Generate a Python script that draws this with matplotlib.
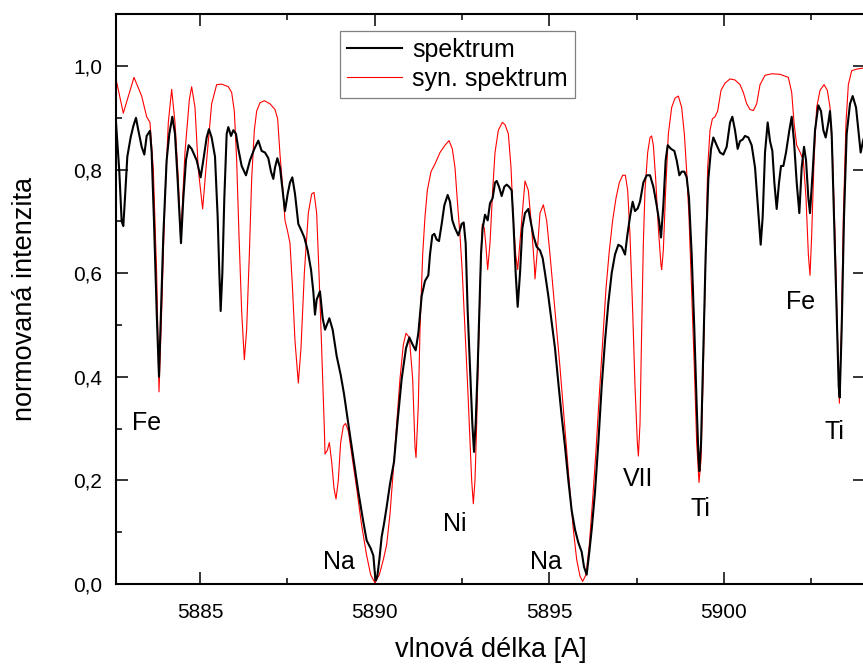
import matplotlib; matplotlib.use("Agg")
import matplotlib.pyplot as plt
from matplotlib.ticker import MultipleLocator, FuncFormatter

plt.rcParams.update({"font.family": ["Liberation Sans", "DejaVu Sans"], "font.size": 15})

# observed spectrum (wavelength in A, normalised intensity)
wl_obs = [5882.595, 5882.690, 5882.757, 5882.804, 5882.852, 5882.919, 5883.014, 5883.091, 5883.167, 5883.234,
          5883.330, 5883.406, 5883.473, 5883.568, 5883.616, 5883.683, 5883.759, 5883.826, 5883.883, 5883.950,
          5884.045, 5884.122, 5884.208, 5884.284, 5884.360, 5884.456, 5884.523, 5884.599, 5884.675, 5884.761,
          5884.905, 5885.019, 5885.095, 5885.191, 5885.258, 5885.334, 5885.430, 5885.506, 5885.554, 5885.592,
          5885.640, 5885.697, 5885.764, 5885.811, 5885.888, 5885.955, 5886.031, 5886.098, 5886.193, 5886.317,
          5886.432, 5886.556, 5886.670, 5886.766, 5886.861, 5886.957, 5887.033, 5887.100, 5887.148, 5887.215,
          5887.291, 5887.367, 5887.434, 5887.511, 5887.577, 5887.644, 5887.721, 5887.816, 5887.892, 5887.988,
          5888.083, 5888.179, 5888.246, 5888.293, 5888.341, 5888.436, 5888.513, 5888.580, 5888.704, 5888.799,
          5888.914, 5889.028, 5889.124, 5889.248, 5889.391, 5889.534, 5889.677, 5889.773, 5889.887, 5889.964,
          5890.011, 5890.040, 5890.078, 5890.136, 5890.202, 5890.269, 5890.346, 5890.441, 5890.556, 5890.651,
          5890.775, 5890.899, 5890.995, 5891.090, 5891.176, 5891.252, 5891.348, 5891.443, 5891.539, 5891.586,
          5891.653, 5891.711, 5891.777, 5891.844, 5891.921, 5891.997, 5892.092, 5892.159, 5892.226, 5892.302,
          5892.398, 5892.493, 5892.551, 5892.608, 5892.665, 5892.732, 5892.799, 5892.847, 5892.894, 5892.952,
          5892.999, 5893.047, 5893.095, 5893.162, 5893.238, 5893.305, 5893.381, 5893.448, 5893.496, 5893.562,
          5893.639, 5893.715, 5893.782, 5893.849, 5893.925, 5893.973, 5894.040, 5894.097, 5894.164, 5894.231,
          5894.307, 5894.402, 5894.546, 5894.641, 5894.737, 5894.813, 5894.880, 5894.975, 5895.071, 5895.166,
          5895.262, 5895.357, 5895.453, 5895.548, 5895.643, 5895.739, 5895.834, 5895.930, 5895.997, 5896.073,
          5896.149, 5896.216, 5896.312, 5896.407, 5896.503, 5896.598, 5896.693, 5896.789, 5896.884, 5896.980,
          5897.075, 5897.171, 5897.237, 5897.314, 5897.390, 5897.457, 5897.534, 5897.600, 5897.696, 5897.791,
          5897.887, 5897.982, 5898.078, 5898.144, 5898.202, 5898.268, 5898.335, 5898.393, 5898.488, 5898.584,
          5898.650, 5898.727, 5898.793, 5898.870, 5898.937, 5899.003, 5899.080, 5899.156, 5899.223, 5899.271,
          5899.299, 5899.347, 5899.414, 5899.481, 5899.557, 5899.634, 5899.700, 5899.796, 5899.891, 5899.987,
          5900.082, 5900.178, 5900.244, 5900.321, 5900.397, 5900.464, 5900.540, 5900.607, 5900.703, 5900.798,
          5900.894, 5900.989, 5901.056, 5901.113, 5901.180, 5901.256, 5901.323, 5901.390, 5901.447, 5901.514,
          5901.581, 5901.638, 5901.705, 5901.781, 5901.877, 5901.944, 5902.010, 5902.087, 5902.163, 5902.230,
          5902.297, 5902.354, 5902.421, 5902.468, 5902.545, 5902.612, 5902.707, 5902.783, 5902.851, 5902.917,
          5902.994, 5903.041, 5903.089, 5903.156, 5903.232, 5903.290, 5903.318, 5903.375, 5903.442, 5903.518,
          5903.614, 5903.690, 5903.786, 5903.853, 5903.919, 5903.986, 5904.050]
int_obs = [0.891, 0.796, 0.700, 0.691, 0.745, 0.825, 0.862, 0.884, 0.900, 0.876,
           0.844, 0.829, 0.865, 0.875, 0.833, 0.700, 0.527, 0.400, 0.527, 0.673,
           0.818, 0.869, 0.902, 0.869, 0.780, 0.658, 0.745, 0.818, 0.847, 0.840,
           0.818, 0.785, 0.818, 0.862, 0.878, 0.862, 0.825, 0.709, 0.600, 0.527,
           0.600, 0.745, 0.869, 0.882, 0.865, 0.876, 0.869, 0.840, 0.807, 0.789,
           0.818, 0.840, 0.856, 0.836, 0.833, 0.822, 0.796, 0.782, 0.804, 0.822,
           0.804, 0.760, 0.720, 0.753, 0.775, 0.785, 0.753, 0.695, 0.684, 0.669,
           0.644, 0.607, 0.564, 0.520, 0.549, 0.565, 0.513, 0.491, 0.513, 0.491,
           0.440, 0.404, 0.367, 0.309, 0.244, 0.178, 0.120, 0.084, 0.069, 0.055,
           0.018, 0.007, 0.015, 0.047, 0.091, 0.116, 0.149, 0.193, 0.236, 0.309,
           0.396, 0.455, 0.476, 0.462, 0.451, 0.484, 0.556, 0.585, 0.596, 0.636,
           0.673, 0.676, 0.665, 0.662, 0.695, 0.731, 0.751, 0.738, 0.702, 0.687,
           0.673, 0.695, 0.698, 0.658, 0.527, 0.418, 0.309, 0.255, 0.309, 0.418,
           0.527, 0.636, 0.687, 0.713, 0.702, 0.735, 0.745, 0.775, 0.778, 0.767,
           0.749, 0.767, 0.771, 0.767, 0.760, 0.702, 0.600, 0.535, 0.600, 0.687,
           0.716, 0.724, 0.673, 0.651, 0.644, 0.629, 0.600, 0.556, 0.505, 0.455,
           0.388, 0.324, 0.265, 0.200, 0.142, 0.105, 0.080, 0.062, 0.033, 0.018,
           0.062, 0.105, 0.178, 0.273, 0.382, 0.469, 0.542, 0.600, 0.636, 0.655,
           0.651, 0.636, 0.673, 0.709, 0.738, 0.720, 0.725, 0.738, 0.775, 0.789,
           0.789, 0.767, 0.731, 0.702, 0.669, 0.731, 0.818, 0.847, 0.840, 0.836,
           0.818, 0.789, 0.796, 0.796, 0.785, 0.745, 0.636, 0.491, 0.345, 0.251,
           0.218, 0.270, 0.455, 0.636, 0.782, 0.840, 0.862, 0.847, 0.833, 0.829,
           0.844, 0.891, 0.902, 0.876, 0.840, 0.855, 0.858, 0.865, 0.862, 0.847,
           0.804, 0.716, 0.655, 0.709, 0.833, 0.891, 0.855, 0.836, 0.775, 0.724,
           0.775, 0.807, 0.807, 0.833, 0.876, 0.902, 0.855, 0.775, 0.716, 0.804,
           0.844, 0.818, 0.745, 0.716, 0.796, 0.876, 0.924, 0.913, 0.876, 0.862,
           0.891, 0.913, 0.869, 0.709, 0.527, 0.382, 0.360, 0.491, 0.709, 0.869,
           0.927, 0.942, 0.920, 0.876, 0.833, 0.855, 0.870]

# synthetic spectrum
wl_syn = [5882.595, 5882.804, 5883.110, 5883.330, 5883.473, 5883.568, 5883.664, 5883.759, 5883.826, 5883.902,
          5883.998, 5884.093, 5884.189, 5884.284, 5884.380, 5884.446, 5884.570, 5884.695, 5884.761, 5884.857,
          5884.952, 5885.076, 5885.191, 5885.334, 5885.477, 5885.620, 5885.811, 5885.907, 5885.983, 5886.050,
          5886.117, 5886.193, 5886.270, 5886.336, 5886.413, 5886.480, 5886.556, 5886.623, 5886.718, 5886.842,
          5887.005, 5887.148, 5887.224, 5887.291, 5887.367, 5887.434, 5887.511, 5887.577, 5887.644, 5887.721,
          5887.816, 5887.892, 5887.988, 5888.102, 5888.198, 5888.265, 5888.341, 5888.408, 5888.484, 5888.561,
          5888.580, 5888.646, 5888.704, 5888.771, 5888.837, 5888.895, 5888.961, 5889.028, 5889.105, 5889.171,
          5889.248, 5889.343, 5889.486, 5889.630, 5889.773, 5889.887, 5890.011, 5890.136, 5890.250, 5890.346,
          5890.441, 5890.536, 5890.632, 5890.727, 5890.823, 5890.899, 5890.995, 5891.090, 5891.157, 5891.186,
          5891.252, 5891.300, 5891.377, 5891.443, 5891.510, 5891.615, 5891.730, 5891.873, 5892.016, 5892.131,
          5892.226, 5892.302, 5892.379, 5892.446, 5892.512, 5892.589, 5892.665, 5892.732, 5892.780, 5892.827,
          5892.875, 5892.923, 5892.990, 5893.047, 5893.085, 5893.142, 5893.190, 5893.238, 5893.305, 5893.381,
          5893.448, 5893.543, 5893.658, 5893.734, 5893.830, 5893.906, 5893.973, 5894.040, 5894.097, 5894.212,
          5894.307, 5894.402, 5894.498, 5894.574, 5894.593, 5894.660, 5894.737, 5894.832, 5894.927, 5895.023,
          5895.118, 5895.214, 5895.309, 5895.405, 5895.500, 5895.596, 5895.691, 5895.787, 5895.882, 5895.958,
          5896.054, 5896.149, 5896.245, 5896.340, 5896.436, 5896.531, 5896.627, 5896.722, 5896.817, 5896.913,
          5897.008, 5897.104, 5897.180, 5897.247, 5897.314, 5897.390, 5897.457, 5897.524, 5897.553, 5897.600,
          5897.648, 5897.696, 5897.743, 5897.820, 5897.887, 5897.934, 5897.982, 5898.049, 5898.125, 5898.202,
          5898.221, 5898.268, 5898.335, 5898.412, 5898.507, 5898.603, 5898.698, 5898.793, 5898.870, 5898.937,
          5899.003, 5899.080, 5899.156, 5899.223, 5899.290, 5899.347, 5899.414, 5899.481, 5899.538, 5899.605,
          5899.672, 5899.748, 5899.824, 5899.920, 5900.034, 5900.178, 5900.321, 5900.464, 5900.559, 5900.655,
          5900.750, 5900.846, 5900.941, 5901.037, 5901.180, 5901.371, 5901.609, 5901.848, 5901.944, 5902.010,
          5902.087, 5902.182, 5902.278, 5902.354, 5902.421, 5902.468, 5902.516, 5902.583, 5902.659, 5902.755,
          5902.870, 5902.965, 5903.041, 5903.118, 5903.184, 5903.251, 5903.309, 5903.366, 5903.423, 5903.499,
          5903.566, 5903.662, 5903.805, 5903.986, 5904.050]
int_syn = [0.975, 0.909, 0.978, 0.942, 0.902, 0.891, 0.800, 0.600, 0.371, 0.527,
           0.745, 0.891, 0.955, 0.891, 0.780, 0.665, 0.833, 0.935, 0.960, 0.920,
           0.800, 0.724, 0.818, 0.927, 0.964, 0.965, 0.960, 0.949, 0.913, 0.818,
           0.673, 0.527, 0.433, 0.491, 0.636, 0.782, 0.876, 0.913, 0.929, 0.933,
           0.927, 0.916, 0.898, 0.829, 0.767, 0.702, 0.680, 0.658, 0.578, 0.469,
           0.388, 0.455, 0.600, 0.716, 0.753, 0.756, 0.716, 0.600, 0.455, 0.300,
           0.251, 0.258, 0.273, 0.236, 0.185, 0.164, 0.200, 0.273, 0.305, 0.310,
           0.295, 0.251, 0.185, 0.113, 0.055, 0.018, 0.002, 0.018, 0.047, 0.076,
           0.135, 0.220, 0.309, 0.396, 0.462, 0.484, 0.476, 0.396, 0.265, 0.244,
           0.345, 0.491, 0.636, 0.709, 0.760, 0.796, 0.811, 0.833, 0.847, 0.856,
           0.840, 0.804, 0.731, 0.673, 0.600, 0.491, 0.382, 0.273, 0.200, 0.155,
           0.200, 0.309, 0.491, 0.636, 0.695, 0.687, 0.651, 0.607, 0.658, 0.760,
           0.833, 0.876, 0.891, 0.887, 0.869, 0.804, 0.702, 0.636, 0.607, 0.702,
           0.778, 0.760, 0.687, 0.615, 0.589, 0.644, 0.716, 0.732, 0.702, 0.636,
           0.564, 0.491, 0.418, 0.338, 0.258, 0.178, 0.105, 0.047, 0.015, 0.005,
           0.018, 0.076, 0.164, 0.258, 0.367, 0.469, 0.571, 0.644, 0.702, 0.745,
           0.775, 0.789, 0.789, 0.760, 0.673, 0.527, 0.382, 0.273, 0.247, 0.309,
           0.491, 0.658, 0.760, 0.833, 0.862, 0.865, 0.847, 0.782, 0.687, 0.615,
           0.607, 0.644, 0.760, 0.869, 0.920, 0.938, 0.942, 0.920, 0.869, 0.796,
           0.709, 0.564, 0.418, 0.273, 0.196, 0.240, 0.418, 0.636, 0.804, 0.876,
           0.898, 0.902, 0.913, 0.953, 0.967, 0.975, 0.973, 0.964, 0.949, 0.927,
           0.916, 0.914, 0.927, 0.964, 0.982, 0.985, 0.984, 0.978, 0.949, 0.891,
           0.847, 0.834, 0.818, 0.745, 0.636, 0.596, 0.673, 0.818, 0.920, 0.953,
           0.964, 0.953, 0.920, 0.818, 0.673, 0.491, 0.349, 0.491, 0.709, 0.891,
           0.964, 0.991, 0.994, 0.996, 0.996]

# line identifications
line_names = ["Fe", "Na", "Ni", "Na", "VII", "Ti", "Fe", "Ti"]
line_wl = [5883.48, 5888.98, 5892.30, 5894.90, 5897.54, 5899.32, 5902.21, 5903.16]
line_y = [0.311, 0.042, 0.116, 0.042, 0.203, 0.145, 0.544, 0.293]

fig = plt.figure(figsize=(8.63, 6.66), dpi=100)
ax = fig.add_axes([116/863, 82/666, 749/863, 1.1*518/666])
ax.plot(wl_obs, int_obs, color="black", lw=1.5, label="spektrum", zorder=3)
ax.plot(wl_syn, int_syn, color="red", lw=0.8, label="syn. spektrum", zorder=2)
for t, x, y in zip(line_names, line_wl, line_y):
    ax.text(x, y, t, ha="center", va="center", fontsize=18)

ax.set_xlim(5882.595, 5904.043); ax.set_ylim(0, 1.1)
ax.xaxis.set_major_locator(MultipleLocator(5)); ax.xaxis.set_minor_locator(MultipleLocator(2.5))
ax.yaxis.set_major_locator(MultipleLocator(0.2)); ax.yaxis.set_minor_locator(MultipleLocator(0.1))
ax.xaxis.set_major_formatter(FuncFormatter(lambda v, p: "%d" % round(v)))
ax.yaxis.set_major_formatter(FuncFormatter(lambda v, p: ("%.1f" % v).replace(".", ",")))
ax.tick_params(which="both", direction="in", top=True, right=True, width=1.1, labelsize=15)
ax.tick_params(which="major", length=8.5)
ax.tick_params(which="minor", length=4.5, right=False)
ax.tick_params(axis="y", pad=10); ax.tick_params(axis="x", pad=14)
for sp in ax.spines.values(): sp.set_linewidth(1.5)

ax.set_xlabel("vlnová délka [A]", fontsize=19.5, va="center")
ax.set_ylabel("normovaná intenzita", fontsize=19.5, va="center")
ax.xaxis.set_label_coords(0.5, -66/570)
ax.yaxis.set_label_coords(-91/749, 0.5)

leg = ax.legend(loc="upper left", bbox_to_anchor=(224/749, 553/570), borderaxespad=0, fontsize=18,
                fancybox=False, framealpha=1, edgecolor="#808080", handlelength=2.2, handletextpad=0.4,
                labelspacing=0.2, borderpad=0.28)
leg.get_frame().set_linewidth(0.9)

fig.savefig("out.png", dpi=100)
